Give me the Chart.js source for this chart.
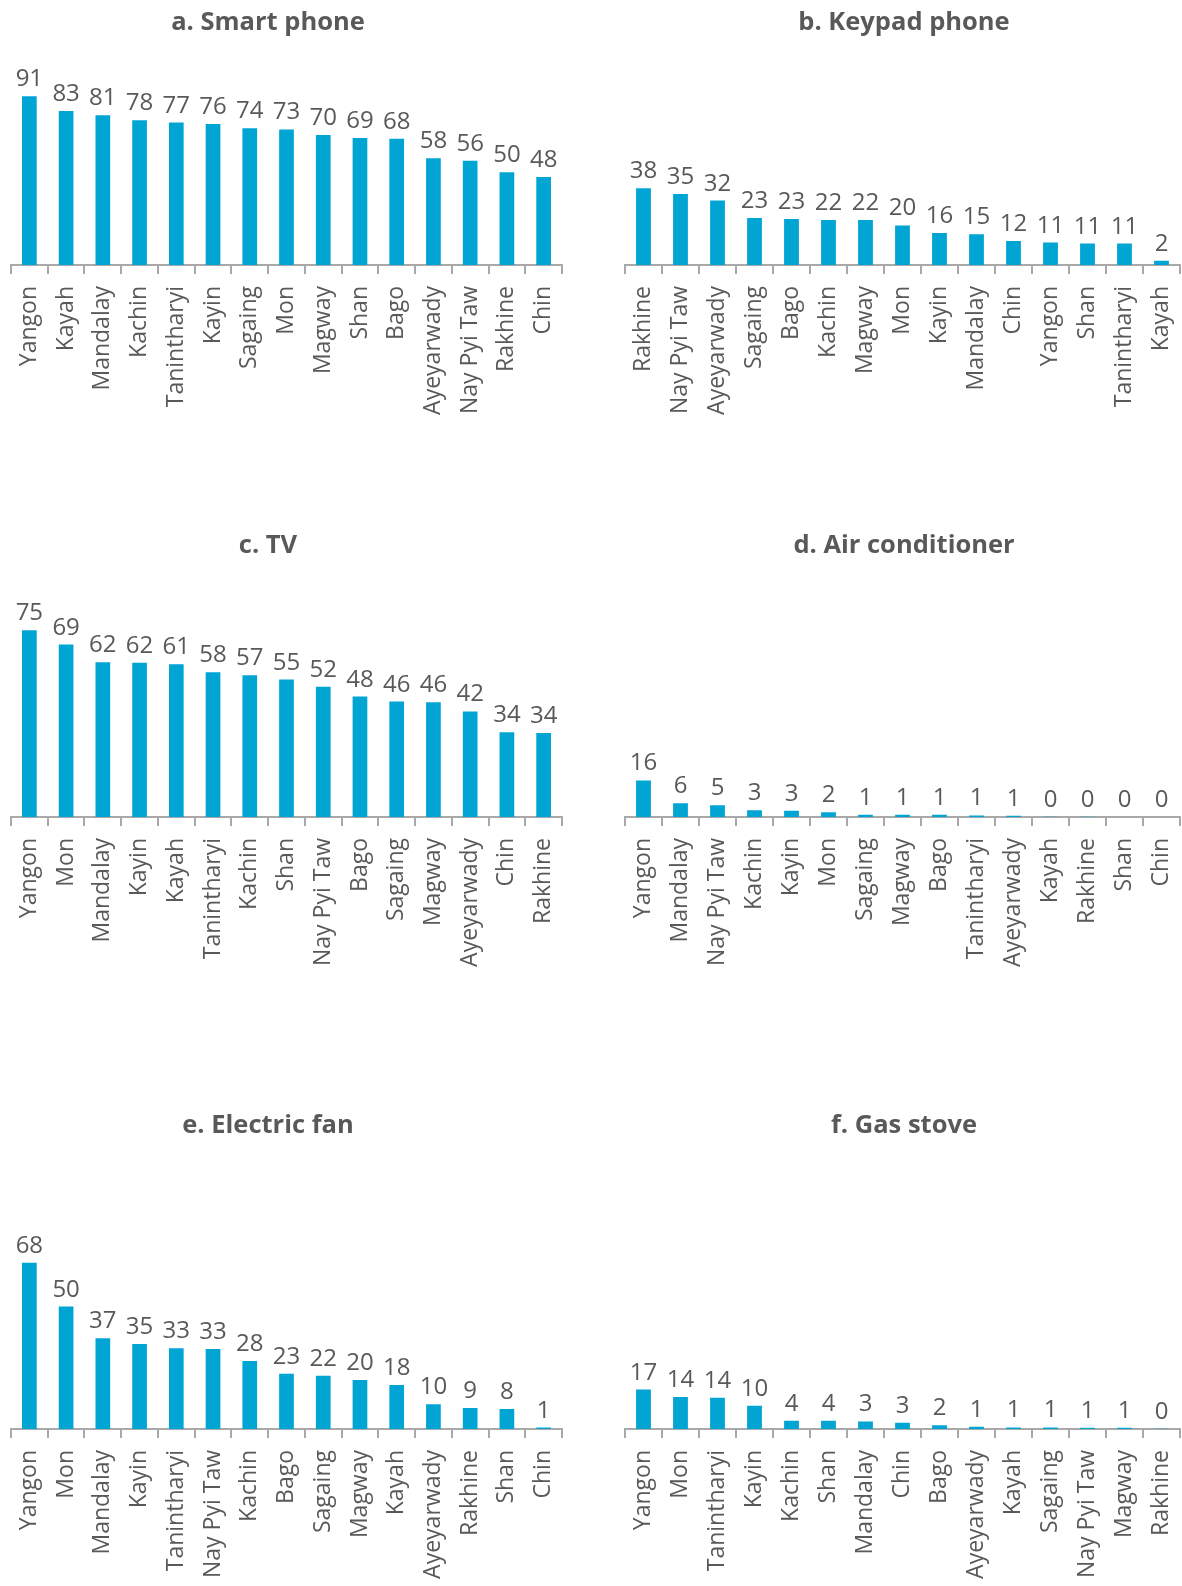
<!DOCTYPE html>
<html>
<head>
<meta charset="utf-8">
<script src="https://cdn.jsdelivr.net/npm/chart.js@4/dist/chart.umd.min.js"></script>
<style>
  html, body { margin: 0; padding: 0; background: #ffffff; }
  body { width: 1182px; height: 1586px; position: relative; overflow: hidden; }
  canvas { position: absolute; }
</style>
</head>
<body>
<canvas id="cA"></canvas>
<canvas id="cB"></canvas>
<canvas id="cC"></canvas>
<canvas id="cD"></canvas>
<canvas id="cE"></canvas>
<canvas id="cF"></canvas>
<script>
// ---------------- DATA ----------------
const titleA = "a. Smart phone";
const catsA = ["Yangon","Kayah","Mandalay","Kachin","Tanintharyi","Kayin","Sagaing","Mon","Magway","Shan","Bago","Ayeyarwady","Nay Pyi Taw","Rakhine","Chin"];
const valsA = [91.2, 83.3, 80.9, 78.3, 77.0, 76.2, 74.0, 73.3, 70.3, 68.6, 68.2, 57.7, 56.4, 50.2, 47.6];

const titleB = "b. Keypad phone";
const catsB = ["Rakhine","Nay Pyi Taw","Ayeyarwady","Sagaing","Bago","Kachin","Magway","Mon","Kayin","Mandalay","Chin","Yangon","Shan","Tanintharyi","Kayah"];
const valsB = [38.0, 35.2, 31.9, 23.3, 22.8, 22.3, 22.3, 19.6, 15.8, 15.2, 11.9, 11.1, 10.6, 10.6, 2.1];

const titleC = "c. TV";
const catsC = ["Yangon","Mon","Mandalay","Kayin","Kayah","Tanintharyi","Kachin","Shan","Nay Pyi Taw","Bago","Sagaing","Magway","Ayeyarwady","Chin","Rakhine"];
const valsC = [75.0, 69.3, 62.2, 62.0, 61.4, 58.2, 56.9, 55.2, 52.3, 48.4, 46.4, 46.1, 42.4, 34.0, 33.7];

const titleD = "d. Air conditioner";
const catsD = ["Yangon","Mandalay","Nay Pyi Taw","Kachin","Kayin","Mon","Sagaing","Magway","Bago","Tanintharyi","Ayeyarwady","Kayah","Rakhine","Shan","Chin"];
const valsD = [16.1, 6.1, 5.2, 3.0, 2.7, 2.1, 1.0, 1.0, 1.0, 0.7, 0.5, 0.1, 0.1, 0.0, 0.0];

const titleE = "e. Electric fan";
const catsE = ["Yangon","Mon","Mandalay","Kayin","Tanintharyi","Nay Pyi Taw","Kachin","Bago","Sagaing","Magway","Kayah","Ayeyarwady","Rakhine","Shan","Chin"];
const valsE = [68.0, 50.1, 37.1, 34.8, 33.0, 32.7, 27.8, 22.6, 21.8, 20.0, 18.0, 10.1, 8.6, 8.2, 0.6];

const titleF = "f. Gas stove";
const catsF = ["Yangon","Mon","Tanintharyi","Kayin","Kachin","Shan","Mandalay","Chin","Bago","Ayeyarwady","Kayah","Sagaing","Nay Pyi Taw","Magway","Rakhine"];
const valsF = [17.2, 14.0, 13.6, 10.2, 3.6, 3.6, 3.3, 2.7, 1.6, 1.0, 0.7, 0.7, 0.6, 0.5, 0.1];

// ---------------- STYLE ----------------
const BAR_COLOR = '#00a5d4';
const TEXT_COLOR = '#595959';
const AXIS_COLOR = '#a9a9a9';
const FONT = '"Open Sans", "DejaVu Sans", sans-serif';

// value labels above bars
const valueLabels = {
  id: 'valueLabels',
  afterDatasetsDraw(chart) {
    const ctx = chart.ctx;
    const meta = chart.getDatasetMeta(0);
    const data = chart.data.datasets[0].data;
    ctx.save();
    ctx.font = '24px ' + FONT;
    ctx.fillStyle = TEXT_COLOR;
    ctx.textAlign = 'center';
    ctx.textBaseline = 'alphabetic';
    meta.data.forEach((bar, i) => {
      ctx.fillText(String(Math.round(data[i])), bar.x, bar.y - 10);
    });
    ctx.restore();
  }
};

// shift the title block horizontally to a given centre
const titleShift = {
  id: 'titleShift',
  afterLayout(chart, args, opts) {
    const tb = chart.titleBlock;
    if (tb && opts && typeof opts.center === 'number') {
      const w = tb.right - tb.left;
      tb.left = opts.center - w / 2;
      tb.right = opts.center + w / 2;
    }
  }
};

function makePanel(id, title, cats, vals, geo) {
  const cv = document.getElementById(id);
  cv.width = geo.w; cv.height = geo.h;
  cv.style.left = geo.x + 'px'; cv.style.top = geo.y + 'px';
  cv.style.width = geo.w + 'px'; cv.style.height = geo.h + 'px';
  return new Chart(cv, {
    type: 'bar',
    data: {
      labels: cats,
      datasets: [{
        data: vals,
        backgroundColor: BAR_COLOR,
        borderWidth: 0,
        barPercentage: 0.4,
        categoryPercentage: 1.0
      }]
    },
    options: {
      responsive: false,
      animation: false,
      devicePixelRatio: 1,
      layout: { padding: { left: geo.padL, right: geo.padR, top: 0, bottom: 0 } },
      plugins: {
        legend: { display: false },
        tooltip: { enabled: false },
        title: {
          display: true,
          text: title,
          color: TEXT_COLOR,
          font: { family: FONT, size: 25.5, weight: 'bold', lineHeight: 1.2 },
          padding: { top: 6, bottom: 6 }
        },
        titleShift: { center: geo.titleCx }
      },
      scales: {
        y: { display: false, min: 0, max: geo.yMax },
        x: {
          offset: true,
          grid: {
            offset: true,
            drawOnChartArea: false,
            drawTicks: true,
            tickLength: 9,
            color: AXIS_COLOR,
            lineWidth: 2
          },
          border: { display: true, color: AXIS_COLOR, width: 2 },
          ticks: {
            autoSkip: false,
            minRotation: 90,
            maxRotation: 90,
            padding: 12,
            color: TEXT_COLOR,
            font: { family: FONT, size: 23 }
          },
          afterFit(scale) {
            scale.height = geo.axisH;
            scale.paddingLeft = 0;
            scale.paddingRight = 0;
          }
        }
      }
    },
    plugins: [valueLabels, titleShift]
  });
}

// ---------------- LAYOUT ----------------
const L = { x: 0, w: 591, padL: 11, padR: 29, titleCx: 268 };
const R = { x: 591, w: 591, padL: 34, padR: 2, titleCx: 904 - 591 };

makePanel('cA', titleA, catsA, valsA, Object.assign({}, L, { y: 1,    h: 434, axisH: 170, yMax: 119.7 }));
makePanel('cB', titleB, catsB, valsB, Object.assign({}, R, { y: 1,    h: 434, axisH: 170, yMax: 109.6 }));
makePanel('cC', titleC, catsC, valsC, Object.assign({}, L, { y: 524,  h: 463, axisH: 170, yMax: 100.6 }));
makePanel('cD', titleD, catsD, valsD, Object.assign({}, R, { y: 524,  h: 463, axisH: 170, yMax: 110.3 }));
makePanel('cE', titleE, catsE, valsE, Object.assign({}, L, { y: 1104, h: 482, axisH: 157, yMax: 115.5 }));
makePanel('cF', titleF, catsF, valsF, Object.assign({}, R, { y: 1104, h: 482, axisH: 157, yMax: 123.3 }));
</script>
</body>
</html>
